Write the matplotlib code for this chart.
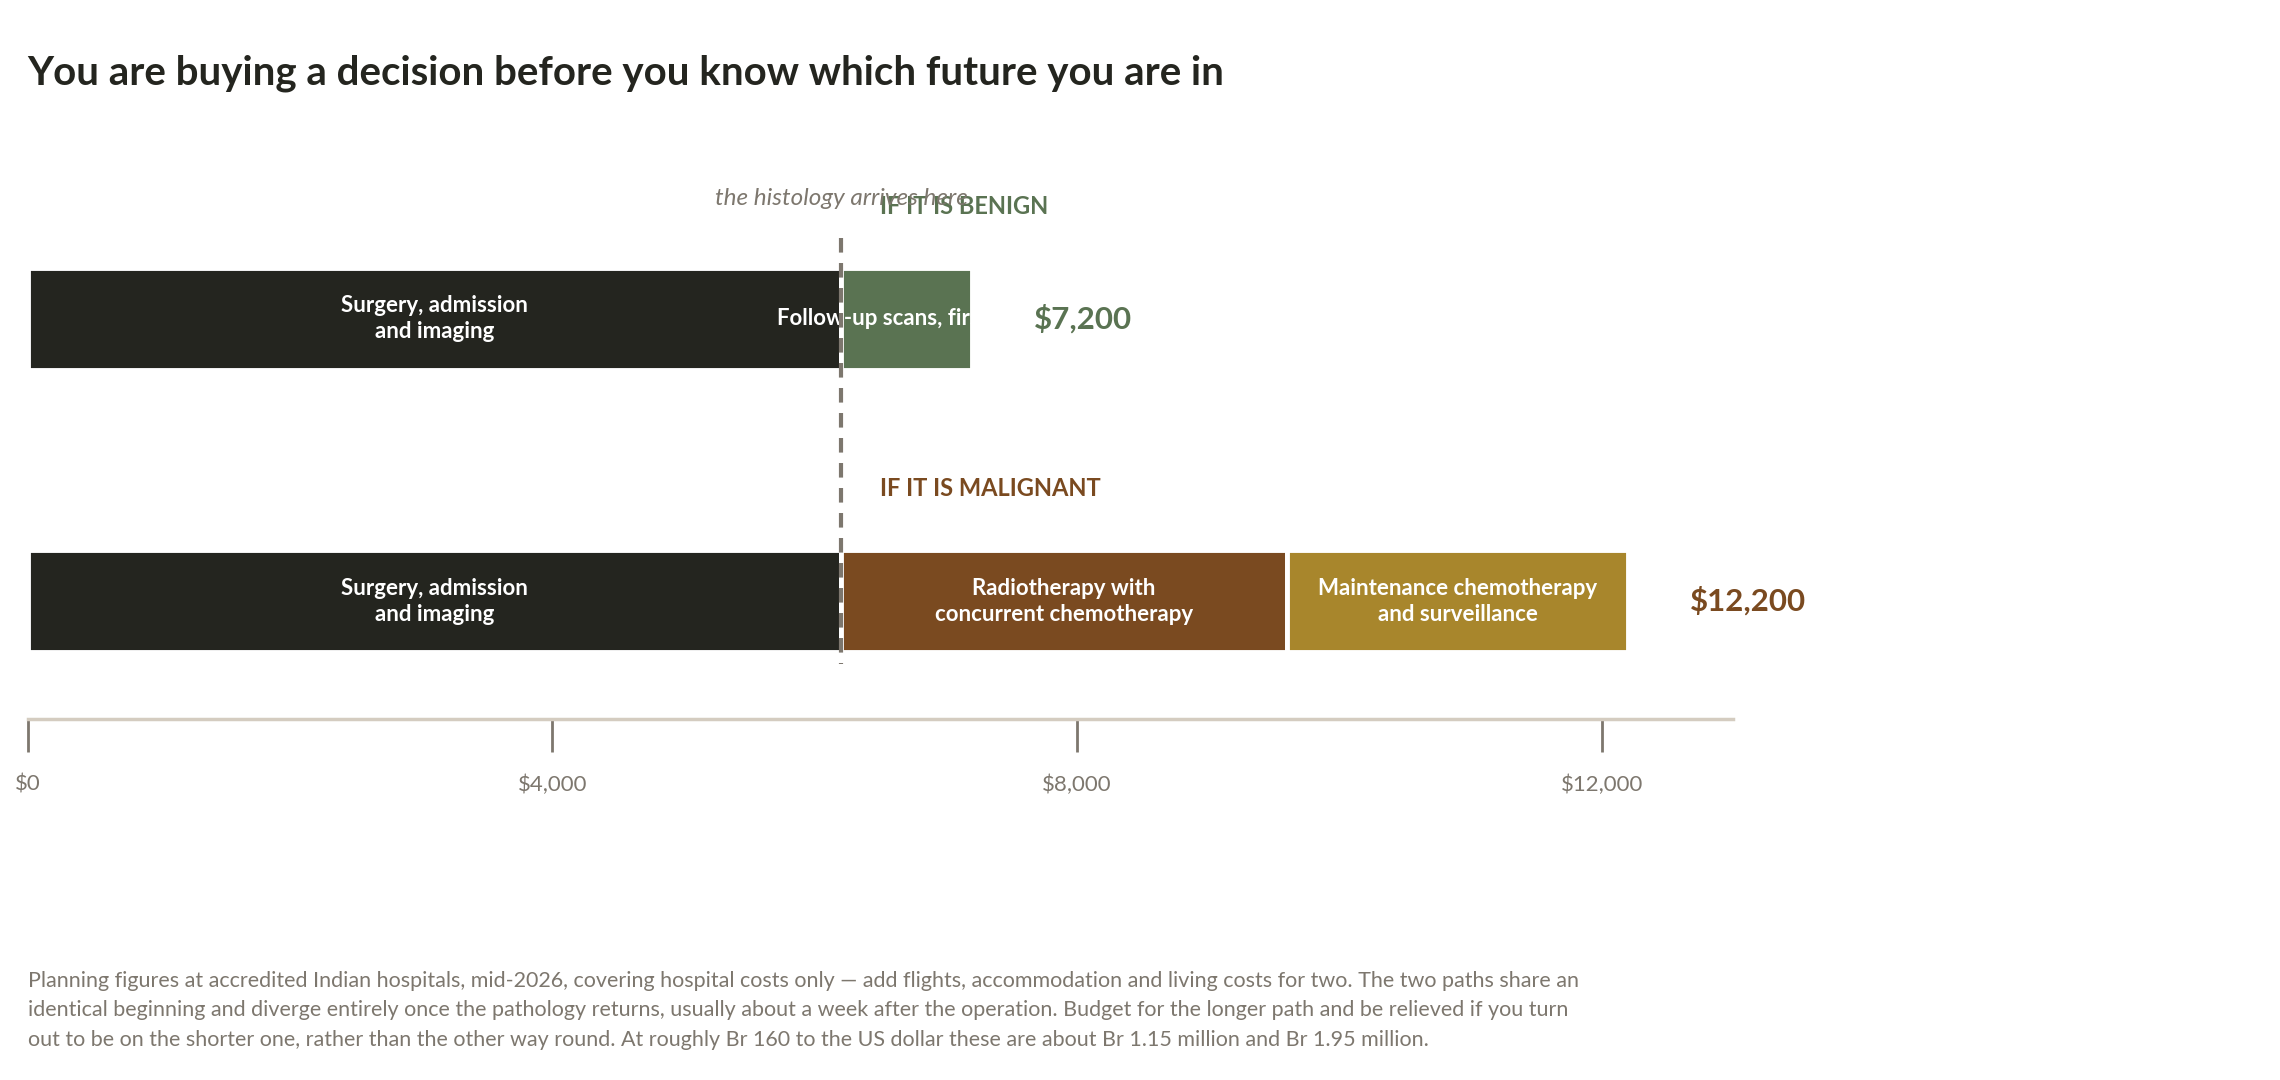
import matplotlib.pyplot as plt
from matplotlib.patches import Rectangle

plt.rcParams['font.family'] = ['Lato', 'DejaVu Sans']

rows = ['benign', 'malignant']
row_titles = ['IF IT IS BENIGN', 'IF IT IS MALIGNANT']
totals = ['$7,200', '$12,200']
segments = {
    'benign': [('Surgery, admission\nand imaging', 6200), ('Follow-up scans, first year', 1000)],
    'malignant': [('Surgery, admission\nand imaging', 6200),
                  ('Radiotherapy with\nconcurrent chemotherapy', 3400),
                  ('Maintenance chemotherapy\nand surveillance', 2600)],
}
histology_at = 6200
ticks = [0, 4000, 8000, 12000]
tick_labels = ['$0', '$4,000', '$8,000', '$12,000']

colors = {'benign': ['#24251f', '#5a7352'], 'malignant': ['#24251f', '#7a4a20', '#a8862c']}
accent = {'benign': '#5a7352', 'malignant': '#7a4a20'}
ycen = {'benign': 220.5, 'malignant': 414}
bh = 70

fig = plt.figure(figsize=(22.8, 10.8), dpi=100)
ax = fig.add_axes([0.0121, 0.334, 0.748, 0.466])
ax.set_xlim(0, 13000)
ax.set_ylim(495, 150)

for r, title, tot in zip(rows, row_titles, totals):
    left = 0
    for (lab, w), c in zip(segments[r], colors[r]):
        ax.barh(ycen[r], w, left=left, height=bh, color=c, edgecolor='white', linewidth=3.5)
        t = ax.text(left + w / 2, ycen[r], lab, ha='center', va='center', color='white',
                    fontsize=16, fontweight='bold', linespacing=1.3)
        if r == 'benign' and left > 0:
            clip = Rectangle((0, ycen[r] - bh / 2), left + w - 20, bh, transform=ax.transData)
            t.set_clip_path(clip)
        left += w
    ax.text(left + 470, ycen[r], tot, ha='left', va='center', color=accent[r],
            fontsize=22.5, fontweight='bold')
    ax.text(histology_at + 300, ycen[r] - 77, title, ha='left', va='center',
            color=accent[r], fontsize=17, fontweight='bold')

ax.plot([histology_at, histology_at], [165, 457], ls=(0, (3.5, 2.5)), color='#7d776e', lw=3, zorder=5)
ax.text(histology_at, 138, 'the histology arrives here', ha='center', va='center',
        color='#7d776e', fontsize=17.5, fontstyle='italic')

for s in ['top', 'right', 'left']:
    ax.spines[s].set_visible(False)
ax.spines['bottom'].set_color('#d4ccc0')
ax.spines['bottom'].set_linewidth(2.5)
ax.set_yticks([])
ax.set_xticks(ticks)
ax.set_xticklabels(tick_labels, fontsize=16, color='#7d776e')
ax.tick_params(axis='x', length=24, width=2, color='#7d776e', pad=16)

fig.text(0.0121, 0.932, 'You are buying a decision before you know which future you are in',
         fontsize=29, fontweight='bold', color='#24251f', va='center')
fig.text(0.0121, 0.028,
         'Planning figures at accredited Indian hospitals, mid-2026, covering hospital costs only \u2014 add flights, accommodation and living costs for two. The two paths share an\n'
         'identical beginning and diverge entirely once the pathology returns, usually about a week after the operation. Budget for the longer path and be relieved if you turn\n'
         'out to be on the shorter one, rather than the other way round. At roughly Br 160 to the US dollar these are about Br 1.15 million and Br 1.95 million.',
         fontsize=15.5, color='#7d776e', va='bottom', linespacing=1.6)

fig.savefig('out.png', dpi=100, facecolor='white')
